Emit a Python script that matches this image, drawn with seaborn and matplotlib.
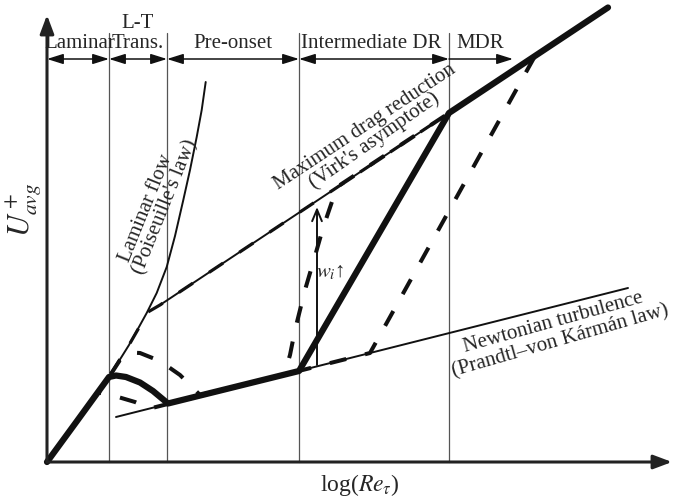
import numpy as np
import pandas as pd
import matplotlib
matplotlib.use("Agg")
import matplotlib.pyplot as plt
import seaborn as sns

# -------------------------
# === Schematic data ======
# units: x = log(Re_tau), y = U+_avg (arbitrary schematic units)
# -------------------------

# laminar (Poiseuille) law, thin line
lam_x = [0.0, 3.0, 6.2, 8.2, 9.97, 10.97, 11.97, 12.8, 13.63, 14.3, 14.97, 15.47, 15.87]
lam_y = [0.0, 4.1, 8.5, 11.7, 14.9, 16.9, 19.5, 22.6, 26.2, 29.2, 32.5, 35.2, 38.0]

# Newtonian turbulence (Prandtl-von Karman)
newt_x = [6.9, 58.1]
newt_y = [4.5, 17.4]

# maximum drag reduction asymptote (Virk)
mdr_x = [11.3, 40.2]
mdr_y = [15.7, 34.9]

# typical polymer solution path, thick line
flow_x = [0.0, 3.0, 6.2, 6.9, 7.9, 9.3, 10.6, 12.1, 25.2, 40.2, 56.1]
flow_y = [0.0, 4.1, 8.5, 8.65, 8.5, 7.95, 7.1, 5.85, 9.1, 34.9, 45.45]

# other paths, dashed
dash_a_x = [0.0, 3.0, 6.2, 7.3, 8.3, 9.3, 11.3, 13.3, 15.3, 23.7, 24.3, 24.8, 25.8, 26.8, 27.6, 29.0, 40.2, 56.1]
dash_a_y = [0.0, 4.1, 8.5, 10.2, 10.95, 10.9, 10.1, 8.7, 6.7, 8.7, 10.7, 13.2, 17.2, 20.6, 23.4, 27.5, 34.9, 45.45]

dash_b_x = [0.0, 3.0, 5.1, 6.1, 7.1, 8.8, 10.3, 32.3, 48.8, 56.1]
dash_b_y = [0.0, 4.1, 6.95, 6.75, 6.5, 6.0, 5.35, 10.9, 40.6, 45.45]

dash_c_x = [0.0, 3.0, 6.2, 8.2, 10.1, 11.3, 40.2, 56.1]
dash_c_y = [0.0, 4.1, 8.5, 11.7, 15.0, 15.7, 34.9, 45.45]

# flow regimes
region_edges = [0.0, 6.2, 12.0, 25.2, 40.2]
region_end = 46.6
region_labels = ["Laminar", "L-T\nTrans.", "Pre-onset", "Intermediate DR", "MDR"]
region_label_x = [3.25, 9.1, 18.6, 32.4, 43.3]

# w_i arrow
wi_x = 27.0
wi_y = [9.7, 25.5]

# -------------------------
# === Plot ================
# -------------------------

sns.set_theme(style="white")
plt.rcParams["font.family"] = ["Liberation Serif", "DejaVu Serif"]
plt.rcParams["mathtext.fontset"] = "stix"

fig = plt.figure(figsize=(6.74, 5.04), dpi=100)
ax = fig.add_axes([0, 0, 1, 1])
ax.set_xlim(-4.7, 62.7)
ax.set_ylim(-4.2, 46.2)
ax.axis("off")

# region separators
for xe in region_edges[1:]:
    ax.plot([xe, xe], [0, 42.9], color="#555555", lw=0.9, zorder=1)

# region arrows
yarr = 40.3
for i in range(len(region_edges)):
    x0 = region_edges[i]
    x1 = region_edges[i + 1] if i + 1 < len(region_edges) else region_end
    style = "<|-|>" if i + 1 < len(region_edges) else "-|>"
    ax.annotate("", xy=(x1, yarr), xytext=(x0, yarr),
                arrowprops=dict(arrowstyle=style + ",head_length=0.7,head_width=0.22",
                                color="#111111", lw=1.1, shrinkA=0, shrinkB=0,
                                mutation_scale=14))
for lab, lx in zip(region_labels, region_label_x):
    if "\n" in lab:
        top, bot = lab.split("\n")
        ax.text(lx, 43.8, top, ha="center", va="center", fontsize=15)
        ax.text(lx, 41.9, bot, ha="center", va="center", fontsize=15)
    else:
        ax.text(lx, 41.9, lab, ha="center", va="center", fontsize=15)

# thin law lines
thin_kw = dict(color="#111111", lw=1.4, sort=False, estimator=None, ax=ax)
sns.lineplot(x=lam_x, y=lam_y, **thin_kw)
sns.lineplot(x=newt_x, y=newt_y, **thin_kw)
sns.lineplot(x=mdr_x, y=mdr_y, **thin_kw)

# dashed paths
for dx, dy, w in [(dash_a_x, dash_a_y, 2.9), (dash_b_x, dash_b_y, 2.9), (dash_c_x, dash_c_y, 2.3)]:
    df = pd.DataFrame({"x": dx, "y": dy})
    sns.lineplot(data=df, x="x", y="y", color="#111111", lw=w,
                 sort=False, estimator=None, ax=ax)
    ax.lines[-1].set_dashes([4.2 * 2.9 / w, 4.8 * 2.9 / w])
    ax.lines[-1].set_dash_capstyle("butt")

# thick solid path
sns.lineplot(x=flow_x, y=flow_y, color="#111111", lw=4.5,
             sort=False, estimator=None, ax=ax)

# coordinate axes
ax_kw = dict(arrowstyle="-|>,head_length=0.8,head_width=0.3", color="#222222",
             lw=2.2, shrinkA=0, shrinkB=0, mutation_scale=14)
ax.annotate("", xy=(62.5, 0), xytext=(0, 0), arrowprops=ax_kw)
ax.annotate("", xy=(0, 44.7), xytext=(0, 0), arrowprops=ax_kw)

# w_i arrow
ax.annotate("", xy=(wi_x, wi_y[1]), xytext=(wi_x, wi_y[0]),
            arrowprops=dict(arrowstyle="->,head_length=0.6,head_width=0.25",
                            color="#111111", lw=1.4, shrinkA=0, shrinkB=0,
                            mutation_scale=14))
ax.text(28.3, 18.9, "$w_i$\u2191", ha="center", va="center", fontsize=15)

# law labels
ax.text(9.9, 25.35, "Laminar flow", rotation=68, rotation_mode="anchor",
        ha="center", va="center", fontsize=15)
ax.text(11.8, 25.45, "(Poiseuille's law)", rotation=68, rotation_mode="anchor",
        ha="center", va="center", fontsize=15)
ax.text(31.8, 33.45, "Maximum drag reduction", rotation=33.5, rotation_mode="anchor",
        ha="center", va="center", fontsize=15)
ax.text(32.7, 32.15, "(Virk's asymptote)", rotation=35, rotation_mode="anchor",
        ha="center", va="center", fontsize=15)
ax.text(50.6, 13.95, "Newtonian turbulence", rotation=15.6, rotation_mode="anchor",
        ha="center", va="center", fontsize=15)
ax.text(51.3, 12.05, "(Prandtl\u2013von K\u00e1rm\u00e1n law)", rotation=16,
        rotation_mode="anchor", ha="center", va="center", fontsize=15)

# axis labels
ax.text(-2.3, 25.2, "$U^+_{avg}$", rotation=90, ha="center", va="center", fontsize=22)
ax.text(31.3, -2.3, "log($Re_\\tau$)", ha="center", va="center", fontsize=17)

fig.savefig("out.png", dpi=100)
